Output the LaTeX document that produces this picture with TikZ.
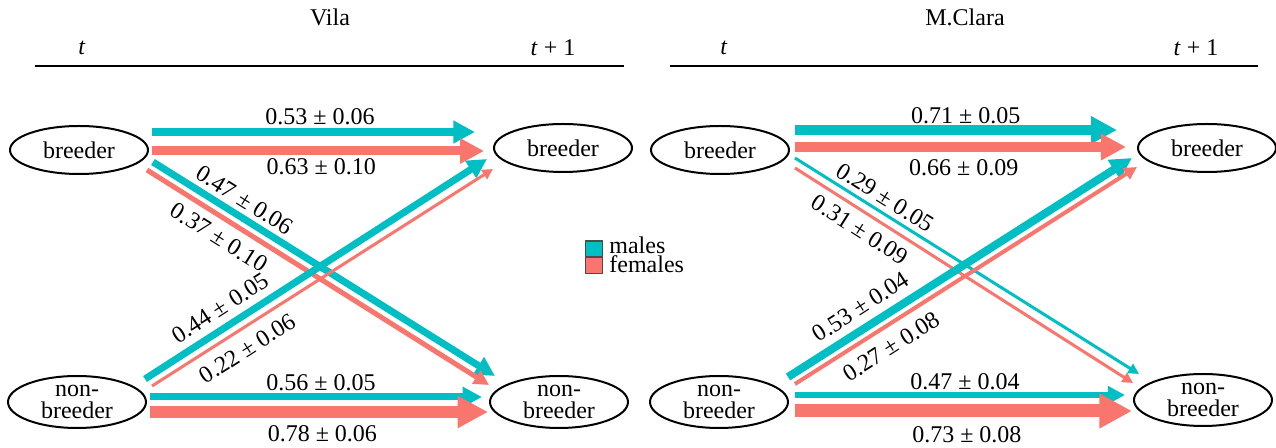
\documentclass[tikz,border=0pt]{standalone}
\usepackage{fontspec}
\setmainfont{Liberation Serif}
\usetikzlibrary{shapes.geometric,arrows.meta,calc}
\definecolor{malec}{HTML}{00BFC4}
\definecolor{femalec}{HTML}{F8766D}
\tikzset{
  state/.style={draw,ellipse,line width=1pt,inner sep=0pt,minimum width=69pt,minimum height=24pt,align=center,font=\rmfamily\fontsize{12}{11}\selectfont},
  male/.style={draw=malec,-{Triangle[length=2pt 2.2,width=2pt 2.2]}},
  female/.style={draw=femalec,-{Triangle[length=2pt 2.2,width=2pt 2.2]}},
  rate/.style={inner sep=0pt,font=\rmfamily\fontsize{12}{13}\selectfont},
  key/.style={draw=black!70,line width=0.6pt,minimum width=8.5pt,minimum height=8pt,inner sep=0pt}
}
\begin{document}
\begin{tikzpicture}[x=0.5pt,y=-0.5pt,font=\rmfamily\fontsize{12}{13}\selectfont]
        \useasboundingbox (0,0) rectangle (1276,448);
        \node (vtitle) at (330,17) {Vila};
        \node (vt) at (82,48) {\textit{t}};
        \node (vt1) at (553,48) {\textit{t} + 1};
        \draw[line width=1pt] (35,66) -- (624,66);
        \node (mtitle) at (965,17) {M.Clara};
        \node (mt) at (724,48) {\textit{t}};
        \node (mt1) at (1196,48) {\textit{t} + 1};
        \draw[line width=1pt] (670,66) -- (1258,66);
        \node[state] (vbL) at (79,150) {breeder};
        \node[state] (vbR) at (563,148) {breeder};
        \node[state,minimum height=26pt] (vnL) at (77,402) {non-\\breeder};
        \node[state,minimum height=26pt] (vnR) at (559,402) {non-\\breeder};
        \draw[male,line width=4pt] ($(vbL)+(73,-18)$) -- ($(vbR)+(-88,-16)$) node[rate,pos=.52,above=1.5pt] (lv1) {0.53 ± 0.06};
        \draw[female,line width=4.5pt] ($(vbL)+(73,1)$) -- ($(vbR)+(-79,3)$) node[rate,pos=.51,below=1.5pt] (lv2) {0.63 ± 0.10};
        \draw[male,line width=3.5pt] ($(vbL)+(74,12)$) -- ($(vnR)+(-64,-26)$) node[rate,sloped,pos=.243,above=2.5pt] (lv3) {0.47 ± 0.06};
        \draw[female,line width=2.5pt] ($(vbL)+(68,20)$) -- ($(vnR)+(-70,-17)$) node[rate,sloped,pos=.24,below=4pt] (lv4) {0.37 ± 0.10};
        \draw[male,line width=3.5pt] ($(vnL)+(68,-23)$) -- ($(vbR)+(-76,11)$) node[rate,sloped,pos=.25,above=3.7pt] (lv5) {0.44 ± 0.05};
        \draw[female,line width=1.5pt] ($(vnL)+(75,-16)$) -- ($(vbR)+(-70,21)$) node[rate,sloped,pos=.25,below=5pt] (lv6) {0.22 ± 0.06};
        \draw[male,line width=3.5pt] ($(vnL)+(73,-5)$) -- ($(vnR)+(-77,-5)$) node[rate,pos=.515,above=1.5pt] (lv7) {0.56 ± 0.05};
        \draw[female,line width=6pt] ($(vnL)+(73,10)$) -- ($(vnR)+(-71,10)$) node[rate,pos=.51,below=4pt] (lv8) {0.78 ± 0.06};
        \node[key,fill=malec] (mkey) at (594,249) {};
        \node[key,fill=femalec] (fkey) at (594,265.5) {};
        \node[anchor=base west,inner sep=0pt] (mtext) at (609,254) {males};
        \node[anchor=base west,inner sep=0pt] (ftext) at (609,273) {females};
        \node[state] (mbL) at (720,150) {breeder};
        \node[state] (mbR) at (1207,148) {breeder};
        \node[state,minimum height=26pt] (mnL) at (719,402) {non-\\breeder};
        \node[state,minimum height=26pt] (mnR) at (1203,400) {non-\\breeder};
        \draw[male,line width=5pt] ($(mbL)+(75,-20)$) -- ($(mbR)+(-90,-18)$) node[rate,pos=.53,above=0.5pt] (lm1) {0.71 ± 0.05};
        \draw[female,line width=4.8pt] ($(mbL)+(75,-3)$) -- ($(mbR)+(-81,-1)$) node[rate,pos=.51,below=4pt] (lm2) {0.66 ± 0.09};
        \draw[male,line width=1.5pt] ($(mbL)+(75,8)$) -- ($(mnR)+(-64,-26)$) node[rate,sloped,pos=.24,above=2.5pt] (lm3) {0.29 ± 0.05};
        \draw[female,line width=1.5pt] ($(mbL)+(75,18)$) -- ($(mnR)+(-70,-17)$) node[rate,sloped,pos=.22,below=3.7pt] (lm4) {0.31 ± 0.09};
        \draw[male,line width=4pt] ($(mnL)+(69,-25)$) -- ($(mbR)+(-75,10)$) node[rate,sloped,pos=.243,above=4pt] (lm5) {0.53 ± 0.04};
        \draw[female,line width=2pt] ($(mnL)+(76,-18)$) -- ($(mbR)+(-70,19)$) node[rate,sloped,pos=.25,below=5pt] (lm6) {0.27 ± 0.08};
        \draw[male,line width=3pt] ($(mnL)+(76,-7)$) -- ($(mnR)+(-78,-5)$) node[rate,pos=.515,above=1pt] (lm7) {0.47 ± 0.04};
        \draw[female,line width=6.5pt] ($(mnL)+(76,9)$) -- ($(mnR)+(-71,11)$) node[rate,pos=.51,below=4.5pt] (lm8) {0.73 ± 0.08};
        \end{tikzpicture}
\end{document}
